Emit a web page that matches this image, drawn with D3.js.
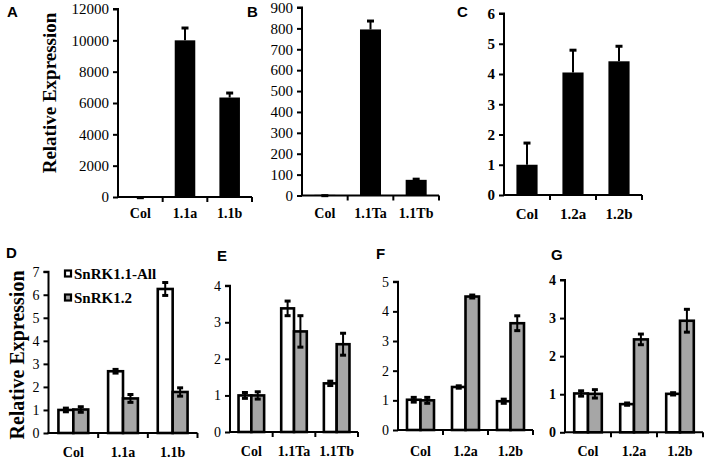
<!DOCTYPE html>
<html><head><meta charset="utf-8">
<script src="https://cdn.jsdelivr.net/npm/d3@7"></script>
<style>body{margin:0;background:#fff}svg{display:block}</style>
</head><body>
<svg id="c" width="708" height="461"></svg>
<script>
// ---- data ----
const catsA = ["Col", "1.1a", "1.1b"];
const valsA = [15, 10000, 6350];
const errA = [5, 850, 350];
const ticksA = [0, 2000, 4000, 6000, 8000, 10000, 12000];

const catsB = ["Col", "1.1Ta", "1.1Tb"];
const valsB = [3, 795, 75];
const errB = [1, 45, 8];
const ticksB = [0, 100, 200, 300, 400, 500, 600, 700, 800, 900];

const catsC = ["Col", "1.2a", "1.2b"];
const valsC = [1.0, 4.05, 4.42];
const errC = [0.75, 0.77, 0.53];
const ticksC = [0, 1, 2, 3, 4, 5, 6];

const seriesNames = ["SnRK1.1-All", "SnRK1.2"];

const catsD = ["Col", "1.1a", "1.1b"];
const allD = [1.0, 2.68, 6.25], allErrD = [0.08, 0.08, 0.28];
const s12D = [1.02, 1.5, 1.78], s12ErrD = [0.12, 0.17, 0.18];
const ticksD = [0, 1, 2, 3, 4, 5, 6, 7];

const catsE = ["Col", "1.1Ta", "1.1Tb"];
const allE = [1.0, 3.38, 1.33], allErrE = [0.08, 0.2, 0.06];
const s12E = [1.0, 2.75, 2.4], s12ErrE = [0.1, 0.43, 0.3];
const ticksE = [0, 1, 2, 3, 4];

const catsF = ["Col", "1.2a", "1.2b"];
const allF = [1.02, 1.45, 0.97], allErrF = [0.08, 0.04, 0.07];
const s12F = [1.0, 4.5, 3.6], s12ErrF = [0.1, 0.05, 0.25];
const ticksF = [0, 1, 2, 3, 4, 5];

const catsG = ["Col", "1.2a", "1.2b"];
const allG = [1.02, 0.74, 1.01], allErrG = [0.07, 0.03, 0.03];
const s12G = [1.01, 2.44, 2.93], s12ErrG = [0.11, 0.14, 0.3];
const ticksG = [0, 1, 2, 3, 4];

const yTitle = "Relative Expression";

// ---- drawing ----
const svg = d3.select("#c");
const SERIF = "'Liberation Serif','Times New Roman',serif";
const SANS = "'Liberation Sans',Arial,sans-serif";
const GRAY = "#a6a6a6";

function panel(o) {
  const g = svg.append("g");
  const x = d3.scaleBand().domain(o.cats).range([o.x0, o.x1]).padding(0);
  const y = d3.scaleLinear().domain([0, o.ticks[o.ticks.length - 1]]).range([o.y0, o.yTop]);

  // bars
  if (o.series.length === 1) {
    const s = o.series[0];
    const bw = x.bandwidth() * 0.46;
    o.cats.forEach((c, i) => {
      const cx = x(c) + x.bandwidth() / 2;
      const top = y(s.vals[i]);
      // error (upper only)
      const et = y(s.vals[i] + s.err[i]);
      g.append("line").attr("x1", cx).attr("x2", cx).attr("y1", top).attr("y2", et)
        .attr("stroke", "#000").attr("stroke-width", 2);
      g.append("line").attr("x1", cx - 3.5).attr("x2", cx + 3.5).attr("y1", et + 1).attr("y2", et + 1)
        .attr("stroke", "#000").attr("stroke-width", 3);
      g.append("rect").attr("x", cx - bw / 2).attr("y", top).attr("width", bw)
        .attr("height", Math.max(0.8, y(0) - top)).attr("fill", "#000");
    });
  } else {
    const bw = x.bandwidth() * 0.3;
    o.series.forEach((s, si) => {
      o.cats.forEach((c, i) => {
        const cx0 = x(c) + x.bandwidth() / 2 + (si === 0 ? -bw : 0);
        const top = y(s.vals[i]);
        g.append("rect").attr("x", cx0).attr("y", top).attr("width", bw)
          .attr("height", y(0) - top).attr("fill", s.fill)
          .attr("stroke", "#000").attr("stroke-width", 2.6);
      });
    });
    o.series.forEach((s, si) => {
      o.cats.forEach((c, i) => {
        const cx = x(c) + x.bandwidth() / 2 + (si === 0 ? -bw / 2 : bw / 2);
        const lo = y(s.vals[i] - s.err[i]), hi = y(s.vals[i] + s.err[i]);
        g.append("line").attr("x1", cx).attr("x2", cx).attr("y1", lo).attr("y2", hi)
          .attr("stroke", "#000").attr("stroke-width", 2);
        [lo, hi].forEach(v => g.append("line").attr("x1", cx - 3).attr("x2", cx + 3)
          .attr("y1", v).attr("y2", v).attr("stroke", "#000").attr("stroke-width", 3));
      });
    });
  }

  // y axis
  const ya = g.append("g").attr("transform", `translate(${o.x0},0)`)
    .call(d3.axisLeft(y).tickValues(o.ticks).tickSize(5).tickPadding(4).tickFormat(d3.format("d")));
  ya.attr("font-family", null);
  ya.select(".domain").attr("stroke", "#000").attr("stroke-width", 2)
    .attr("d", `M-5,${y(o.ticks[o.ticks.length - 1])}H0V${o.y0}`);
  ya.selectAll(".tick line").attr("stroke", "#000").attr("stroke-width", 2);
  ya.selectAll(".tick text").attr("fill", "#000").attr("font-family", SERIF).style("font-family", SERIF)
    .style("font-size", o.tickFs + "px").style("font-weight", o.boldTicks ? "bold" : "normal");

  // x axis: labels centred in bands, ticks at band boundaries
  const xa = g.append("g").attr("transform", `translate(0,${o.y0})`)
    .call(d3.axisBottom(x).tickSize(0).tickPadding(o.xPad));
  xa.attr("font-family", null);
  xa.select(".domain").remove();
  xa.selectAll(".tick text").attr("fill", "#000").style("font-family", SERIF)
    .style("font-size", o.xFs + "px").style("font-weight", "bold");
  g.append("line").attr("x1", o.x0 - 1).attr("x2", o.x1).attr("y1", o.y0).attr("y2", o.y0)
    .attr("stroke", "#000").attr("stroke-width", 2);
  o.cats.forEach(c => {
    const bx = x(c) + x.bandwidth();
    g.append("line").attr("x1", bx).attr("x2", bx).attr("y1", o.y0).attr("y2", o.y0 + 5)
      .attr("stroke", "#000").attr("stroke-width", 2);
  });

  // panel letter
  svg.append("text").attr("x", o.lx).attr("y", o.ly).text(o.letter)
    .style("font-family", SANS).style("font-weight", "bold").style("font-size", "15px");
}

const s1 = (v, e) => [{ vals: v, err: e, fill: "#000" }];
const s2 = (a, ae, b, be) => [
  { name: seriesNames[0], vals: a, err: ae, fill: "#fff" },
  { name: seriesNames[1], vals: b, err: be, fill: GRAY }];

panel({ letter: "A", lx: 7, ly: 17, cats: catsA, series: s1(valsA, errA), ticks: ticksA,
  x0: 118, x1: 252, y0: 197, yTop: 9, tickFs: 15, boldTicks: false, xFs: 14, xPad: 11 });
panel({ letter: "B", lx: 247, ly: 17, cats: catsB, series: s1(valsB, errB), ticks: ticksB,
  x0: 302, x1: 439, y0: 195.5, yTop: 7.5, tickFs: 15, boldTicks: false, xFs: 14, xPad: 13 });
panel({ letter: "C", lx: 457, ly: 17, cats: catsC, series: s1(valsC, errC), ticks: ticksC,
  x0: 504, x1: 642, y0: 195, yTop: 13.5, tickFs: 15, boldTicks: true, xFs: 15, xPad: 13 });

panel({ letter: "D", lx: 6, ly: 258, cats: catsD, series: s2(allD, allErrD, s12D, s12ErrD), ticks: ticksD,
  x0: 48.5, x1: 197.5, y0: 433, yTop: 271.7, tickFs: 14, boldTicks: false, xFs: 14, xPad: 14 });
panel({ letter: "E", lx: 217, ly: 261, cats: catsE, series: s2(allE, allErrE, s12E, s12ErrE), ticks: ticksE,
  x0: 230, x1: 358, y0: 432, yTop: 285.7, tickFs: 14, boldTicks: false, xFs: 14, xPad: 14 });
panel({ letter: "F", lx: 376, ly: 259, cats: catsF, series: s2(allF, allErrF, s12F, s12ErrF), ticks: ticksF,
  x0: 398, x1: 533, y0: 430, yTop: 281.7, tickFs: 14, boldTicks: false, xFs: 14, xPad: 16 });
panel({ letter: "G", lx: 551, ly: 260, cats: catsG, series: s2(allG, allErrG, s12G, s12ErrG), ticks: ticksG,
  x0: 565, x1: 703, y0: 432.3, yTop: 280, tickFs: 14, boldTicks: true, xFs: 14, xPad: 14 });

// y titles
svg.append("text").attr("transform", "translate(56,93) rotate(-90)").attr("text-anchor", "middle")
  .text(yTitle).style("font-family", SERIF).style("font-weight", "bold").style("font-size", "19px");
svg.append("text").attr("transform", "translate(24,355) rotate(-90)").attr("text-anchor", "middle")
  .text(yTitle).style("font-family", SERIF).style("font-weight", "bold").style("font-size", "20px");

// legend (panel D)
const lg = svg.append("g");
seriesNames.forEach((n, i) => {
  const yy = 273.5 + i * 24;
  lg.append("rect").attr("x", 65).attr("y", yy - 3).attr("width", 6).attr("height", 6)
    .attr("fill", i === 0 ? "#fff" : GRAY).attr("stroke", "#000").attr("stroke-width", 2.2);
  lg.append("text").attr("x", 74).attr("y", yy + 5).text(n)
    .style("font-family", SERIF).style("font-weight", "bold").style("font-size", "15px");
});
</script>
</body></html>
